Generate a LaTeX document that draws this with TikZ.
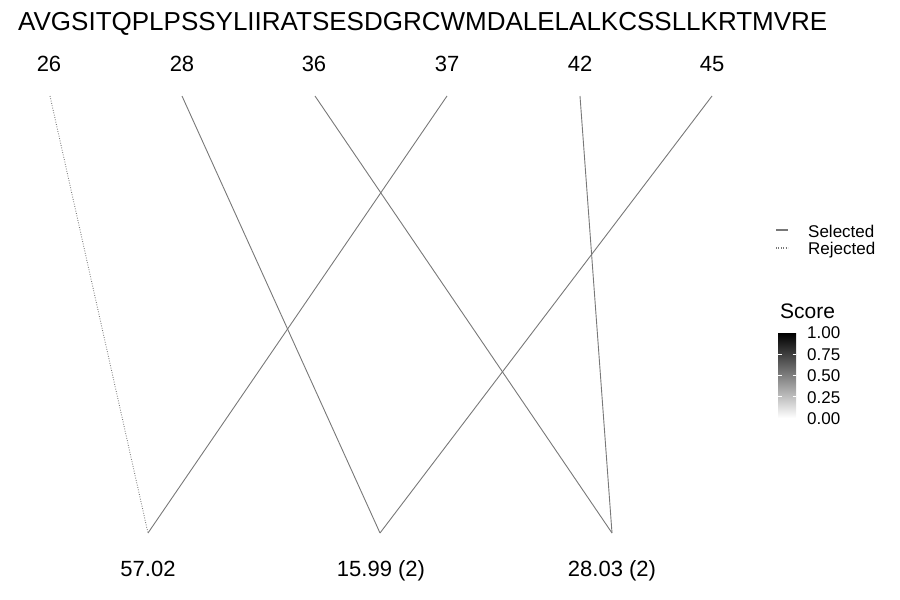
\documentclass[tikz,border=0pt]{standalone}
\usepackage{fontspec}
\setmainfont{Liberation Sans}
\usetikzlibrary{positioning,calc}
\definecolor{linkGray}{RGB}{120,120,120}
\tikzset{
    seqText/.style={font=\fontsize{26}{30}\selectfont, inner sep=0pt, anchor=base west},
    siteText/.style={font=\fontsize{22}{26}\selectfont, inner sep=0pt, anchor=base},
    legText/.style={font=\fontsize{17}{20}\selectfont, inner sep=0pt, anchor=base west},
    % link styles
    selected/.style={draw=linkGray, line width=0.9pt},
    rejected/.style={draw=linkGray, line width=0.9pt, dash pattern=on 0.8pt off 1.6pt}
}
\begin{document}
\begin{tikzpicture}[x=1pt, y=-1pt]
    \useasboundingbox (0,0) rectangle (900,600);

    \node[seqText] (sequence) at (18,30) {AVGSITQPLPSSYLIIRATSESDGRCWMDALELALKCSSLLKRTMVRE};

    % sites
    \node[siteText] (pos26) at (49,71) {26};
    \node[siteText] (pos28) at (182,71) {28};
    \node[siteText] (pos36) at (314,71) {36};
    \node[siteText] (pos37) at (447,71) {37};
    \node[siteText] (pos42) at (580,71) {42};
    \node[siteText] (pos45) at (712,71) {45};

    \coordinate (top26) at (50,96);
    \coordinate (top28) at (182,96);
    \coordinate (top36) at (315,96);
    \coordinate (top37) at (447,96);
    \coordinate (top42) at (580,96);
    \coordinate (top45) at (712,96);

    % masses
    \node[siteText] (mass1) at (148,576) {57.02};
    \node[siteText] (mass2) at (381,576) {15.99 (2)};
    \node[siteText] (mass3) at (612,576) {28.03 (2)};

    \coordinate (bot1) at (148,533);
    \coordinate (bot2) at (380,533);
    \coordinate (bot3) at (612,533);

    \draw[rejected] (top26) -- (bot1);
    \draw[selected] (top37) -- (bot1);
    \draw[selected] (top28) -- (bot2);
    \draw[selected] (top45) -- (bot2);
    \draw[selected] (top36) -- (bot3);
    \draw[selected] (top42) -- (bot3);

    % legend
    \coordinate (selA) at (776,230);
    \coordinate (selB) at (788,230);
    \coordinate (rejA) at (776,248);
    \coordinate (rejB) at (788,248);
    \draw[selected, line width=1.1pt] (selA) -- (selB);
    \draw[rejected, line width=1.1pt] (rejA) -- (rejB);
    \node[legText] (selLabel) at (808,237.5) {Selected};
    \node[legText] (rejLabel) at (808,254) {Rejected};

    \node[legText, font=\fontsize{21}{24}\selectfont] (scoreTitle) at (780,318) {Score};
    \shade[top color=black, bottom color=white] (778,333) rectangle (796,418);
    \foreach \yy in {354.25,375.5,396.75} {
        \draw[white, line width=0.6pt] (778,\yy) -- (781.5,\yy);
        \draw[white, line width=0.6pt] (792.5,\yy) -- (796,\yy);
    }
    \node[legText] (tick100) at (807,338.5) {1.00};
    \node[legText] (tick075) at (807,360) {0.75};
    \node[legText] (tick050) at (807,381.5) {0.50};
    \node[legText] (tick025) at (807,403) {0.25};
    \node[legText] (tick000) at (807,424.5) {0.00};
\end{tikzpicture}
\end{document}
